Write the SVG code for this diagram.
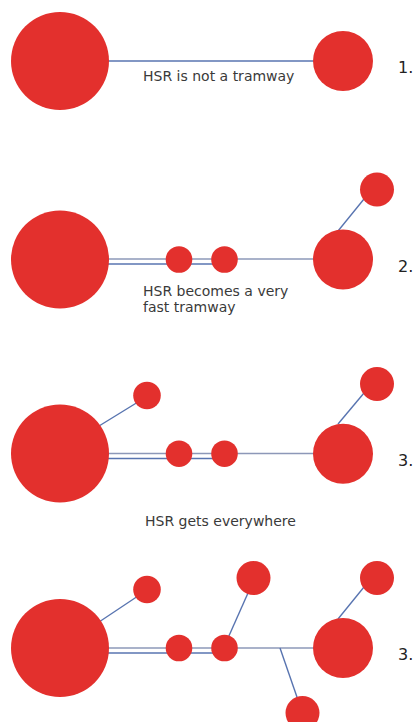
<svg xmlns="http://www.w3.org/2000/svg" width="415" height="722" viewBox="0 0 415 722">
<style>
.ln{stroke:#5874b0;stroke-width:1.4;fill:none}
.ln2{stroke:#8d98b8;stroke-width:1.4;fill:none}
.nd{fill:#e3302d}
.lbl{font-family:"DejaVu Sans",Verdana,sans-serif;font-size:14px;fill:#3a3a3a}
.num{font-family:"DejaVu Sans",Verdana,sans-serif;font-size:16px;fill:#222}
</style>
<rect width="415" height="722" fill="#fff"/>
<g id="connectors">
<!-- 1 -->
<line class="ln" x1="105" y1="61" x2="318" y2="61"/>
<!-- 2 -->
<line class="ln2" x1="105" y1="259" x2="318" y2="259"/>
<line class="ln" x1="105" y1="264" x2="220" y2="264"/>
<line class="ln" x1="338" y1="231" x2="364" y2="199"/>
<!-- 3 -->
<line class="ln2" x1="105" y1="453.5" x2="318" y2="453.5"/>
<line class="ln" x1="105" y1="458.5" x2="220" y2="458.5"/>
<line class="ln" x1="99" y1="426" x2="138" y2="402"/>
<line class="ln" x1="338" y1="424" x2="364" y2="393"/>
<!-- 4 -->
<line class="ln2" x1="105" y1="648" x2="318" y2="648"/>
<line class="ln" x1="105" y1="653" x2="220" y2="653"/>
<line class="ln" x1="99" y1="622" x2="138" y2="596"/>
<line class="ln" x1="228" y1="638" x2="248" y2="593"/>
<line class="ln" x1="280" y1="648" x2="298" y2="700"/>
<line class="ln" x1="338" y1="619" x2="364" y2="587"/>
</g>
<g id="nodes">
<g id="s1-big"><circle class="nd" cx="60" cy="61" r="49"/></g>
<g id="s1-right"><circle class="nd" cx="343" cy="61" r="30"/></g>

<g id="s2-big"><circle class="nd" cx="60" cy="259.5" r="49"/></g>
<g id="s2-small1"><circle class="nd" cx="179" cy="259.5" r="13.3"/></g>
<g id="s2-small2"><circle class="nd" cx="224.5" cy="259.5" r="13.3"/></g>
<g id="s2-right"><circle class="nd" cx="343" cy="259.5" r="30"/></g>
<g id="s2-top"><circle class="nd" cx="377" cy="189.5" r="17"/></g>

<g id="s3-big"><circle class="nd" cx="60" cy="453.5" r="49"/></g>
<g id="s3-tl"><circle class="nd" cx="147" cy="395.5" r="13.8"/></g>
<g id="s3-small1"><circle class="nd" cx="179" cy="453.7" r="13.3"/></g>
<g id="s3-small2"><circle class="nd" cx="224.5" cy="453.7" r="13.3"/></g>
<g id="s3-right"><circle class="nd" cx="343" cy="453.7" r="30"/></g>
<g id="s3-top"><circle class="nd" cx="377" cy="384" r="17"/></g>

<g id="s4-big"><circle class="nd" cx="60" cy="648" r="49"/></g>
<g id="s4-tl"><circle class="nd" cx="147" cy="589.5" r="13.8"/></g>
<g id="s4-small1"><circle class="nd" cx="179" cy="648" r="13.3"/></g>
<g id="s4-small2"><circle class="nd" cx="224.5" cy="648" r="13.3"/></g>
<g id="s4-topmid"><circle class="nd" cx="253.5" cy="578" r="17"/></g>
<g id="s4-bottom"><circle class="nd" cx="302.5" cy="713" r="17"/></g>
<g id="s4-right"><circle class="nd" cx="343" cy="648" r="30"/></g>
<g id="s4-top"><circle class="nd" cx="377" cy="578" r="17"/></g>
</g>
<g id="labels">
<text class="lbl" x="143" y="81">HSR is not a tramway</text>
<text class="lbl" x="143" y="296">HSR becomes a very</text>
<text class="lbl" x="143" y="312">fast tramway</text>
<text class="lbl" x="145" y="526">HSR gets everywhere</text>
<text class="num" x="398" y="73">1.</text>
<text class="num" x="398" y="272">2.</text>
<text class="num" x="398" y="466">3.</text>
<text class="num" x="398" y="660">3.</text>
</g>
</svg>
